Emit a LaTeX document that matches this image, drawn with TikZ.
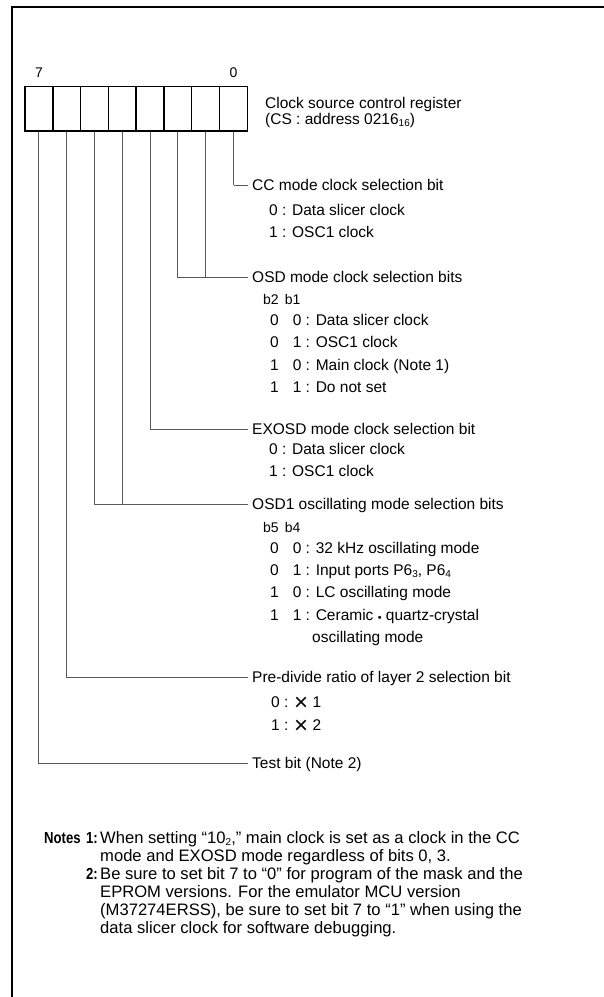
\documentclass[tikz,border=0pt]{standalone}
\usepackage{fontspec}
\setmainfont{Liberation Sans}
\usetikzlibrary{matrix,positioning}
\newcommand\lowsub[1]{\raisebox{-1.5pt}{\fontsize{10}{10}\selectfont #1}}
\newcommand\timesx{\raisebox{-2.5pt}{\scalebox{1.55}{×}}}
\newcommand\smalldot{\raisebox{-0.5pt}{\fontsize{11}{11}\selectfont •}}
\newcommand\narrowbf[1]{\scalebox{0.82}[1]{#1}}

\begin{document}
\begin{tikzpicture}[x=1pt,y=-1pt,
  txt/.style={anchor=west,inner xsep=4pt,inner ysep=0pt,text height=11pt,text depth=0pt,font=\fontsize{15.5}{18}\selectfont},
  small/.style={txt,font=\fontsize{14}{16}\selectfont},
  note/.style={txt,font=\fontsize{16.6}{18}\selectfont},
  bold/.style={txt,font=\fontsize{16}{18}\selectfont\bfseries},
  bitbox/.style={draw,line width=1.4pt,minimum width=27.8pt,minimum height=44.4pt,inner sep=0pt},
  leader/.style={draw=black!65,line width=0.9pt},
  frame/.style={line width=2.5pt}]
  \useasboundingbox (0,0) rectangle (604,997);
  \draw[frame] (604,7) -| (12,997);
  \matrix (m) at (136.2,108.8) [matrix of nodes, nodes in empty cells, nodes={bitbox}, column sep=-1.4pt]{
    & & & & & & & \\};
  \node[small] (hi) [above=8pt of m-1-1] {7};
  \node[small] (lo) [above=8pt of m-1-8] {0};
  \node[txt] (reg) at (261,103) {Clock source control register};
  \node[txt] (addr) at (261,119) {(CS : address 0216\lowsub{16})};
  \node[txt] (cc) at (248,185) {CC mode clock selection bit};
  \node[txt] (cc0) at (265,210) {0 : Data slicer clock};
  \node[txt] (cc1) at (265,232) {1 : OSC1 clock};
  \node[txt] (osd) at (248,277) {OSD mode clock selection bits};
  \node[small] (osdb) at (259,299) {b2\hspace{6pt}b1};
  \node[txt] (osd00) at (266,320) {0\hspace{14pt}0 : Data slicer clock};
  \node[txt] (osd01) at (266,342) {0\hspace{14pt}1 : OSC1 clock};
  \node[txt] (osd10) at (266,365) {1\hspace{14pt}0 : Main clock (Note 1)};
  \node[txt] (osd11) at (266,387) {1\hspace{14pt}1 : Do not set};
  \node[txt] (exosd) at (248,429) {EXOSD mode clock selection bit};
  \node[txt] (exosd0) at (265,449) {0 : Data slicer clock};
  \node[txt] (exosd1) at (265,471) {1 : OSC1 clock};
  \node[txt] (osd1) at (248,504) {OSD1 oscillating mode selection bits};
  \node[small] (osd1b) at (259,527) {b5\hspace{6pt}b4};
  \node[txt] (osc00) at (266,548) {0\hspace{14pt}0 : 32 kHz oscillating mode};
  \node[txt] (osc01) at (266,570) {0\hspace{14pt}1 : Input ports P6\lowsub{3}, P6\lowsub{4}};
  \node[txt] (osc10) at (266,592) {1\hspace{14pt}0 : LC oscillating mode};
  \node[txt] (osc11) at (266,615) {1\hspace{14pt}1 : Ceramic \smalldot{} quartz-crystal};
  \node[txt] (osc11b) at (308,637) {oscillating mode};
  \node[txt] (pdiv) at (248,677) {Pre-divide ratio of layer 2 selection bit};
  \node[txt] (pdiv0) at (267,702) {0 : \timesx{} 1};
  \node[txt] (pdiv1) at (267,725) {1 : \timesx{} 2};
  \node[txt] (test) at (248,763) {Test bit (Note 2)};
  \node[bold] (notes) at (40,838) {\narrowbf{Notes}};
  \node[bold] (n1) at (82,838) {\narrowbf{1:}};
  \node[note] (n1a) at (96,838) {When setting “10\lowsub{2},” main clock is set as a clock in the CC};
  \node[note] (n1b) at (96,856) {mode and EXOSD mode regardless of bits 0, 3.};
  \node[bold] (n2) at (82,874) {\narrowbf{2:}};
  \node[note] (n2a) at (96,874) {Be sure to set bit 7 to “0” for program of the mask and the};
  \node[note] (n2b) at (96,892) {EPROM versions. For the emulator MCU version};
  \node[note] (n2c) at (96,910) {(M37274ERSS), be sure to set bit 7 to “1” when using the};
  \node[note] (n2d) at (96,928) {data slicer clock for software debugging.};
  \path[leader]
    (m-1-8.south) edge (m-1-8.south |- cc.west) (m-1-8.south |- cc.west) edge (cc.west)
    (m-1-6.south) |- (osd.west)
    (m-1-7.south) -- (m-1-7.south |- osd.west)
    (m-1-5.south) |- (exosd.west)
    (m-1-3.south) |- (osd1.west)
    (m-1-4.south) -- (m-1-4.south |- osd1.west)
    (m-1-2.south) |- (pdiv.west)
    (m-1-1.south) |- (test.west);
\end{tikzpicture}
\end{document}
